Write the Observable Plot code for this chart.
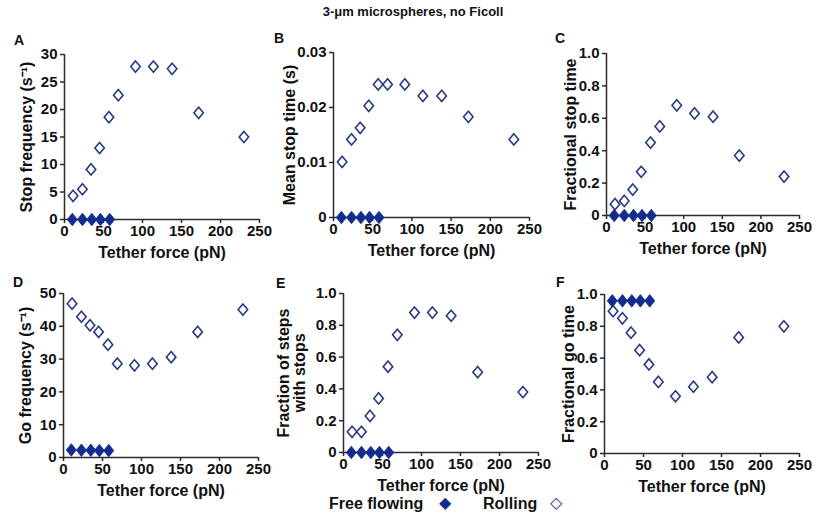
<!DOCTYPE html>
<html><head><meta charset="utf-8">
<script src="https://cdn.jsdelivr.net/npm/d3@7"></script>
<script src="https://cdn.jsdelivr.net/npm/@observablehq/plot@0.6"></script>
<style>
body{margin:0;background:#fff;font-family:"Liberation Sans",Arial,sans-serif;}
#wrap{position:relative;width:826px;height:516px;overflow:hidden;background:#fff;}
.abs{position:absolute;font-weight:bold;color:#111;line-height:1;white-space:nowrap;}
svg{overflow:visible;}
</style></head><body><div id="wrap"></div>
<script>
// ---- data ----
const forceRolling = [11, 23, 34, 45, 57, 69, 91, 114, 138, 172, 230];
const forceFree = [10, 23, 35, 46, 58];
const stopFreqRolling = [4.3, 5.5, 9.1, 13.0, 18.6, 22.6, 27.8, 27.8, 27.4, 19.4, 15.0];
const stopFreqFree = [0, 0, 0, 0, 0];
const meanStopRolling = [0.0101, 0.0142, 0.0163, 0.0203, 0.0242, 0.0242, 0.0242, 0.0221, 0.0221, 0.0183, 0.0142];
const meanStopFree = [0, 0, 0, 0, 0];
const fracStopRolling = [0.07, 0.09, 0.16, 0.27, 0.45, 0.55, 0.68, 0.63, 0.61, 0.37, 0.24];
const fracStopFree = [0, 0, 0, 0, 0];
const goFreqRolling = [46.9, 42.9, 40.3, 38.3, 34.4, 28.6, 28.1, 28.6, 30.6, 38.3, 45.1];
const goFreqFree = [2.3, 2.2, 2.2, 2.1, 2.1];
const fracStepsRolling = [0.13, 0.13, 0.23, 0.34, 0.54, 0.74, 0.88, 0.88, 0.86, 0.505, 0.38];
const fracStepsFree = [0, 0, 0, 0, 0];
const fracGoRolling = [0.895, 0.85, 0.76, 0.65, 0.56, 0.45, 0.36, 0.42, 0.48, 0.73, 0.80];
const fracGoFree = [0.96, 0.96, 0.96, 0.96, 0.96];
const xTicks = [0, 50, 100, 150, 200, 250];
const ticksA = [0, 5, 10, 15, 20, 25, 30];
const ticksB = [0, 0.01, 0.02, 0.03];
const ticksFrac = [0, 0.2, 0.4, 0.6, 0.8, 1.0];
const ticksD = [0, 10, 20, 30, 40, 50];
const titleText = "3-\u03bcm microspheres, no Ficoll";
const xLabel = "Tether force (pN)";

const FILL = "#132c8e", STROKE = "#283a82", AXIS = "#2a2a2a";
// diamonds a bit taller than wide
function makeDiamond(aspect) {
  return {draw(ctx, size) {
    const r = Math.sqrt(size / Math.PI), w = r * aspect;
    ctx.moveTo(0, -r); ctx.lineTo(w, 0); ctx.lineTo(0, r); ctx.lineTo(-w, 0); ctx.closePath();
  }};
}
const hollowDiamond = makeDiamond(0.85);
const filledDiamond = makeDiamond(0.8);

const wrap = document.getElementById("wrap");
function addText(txt, left, top, size, extra) {
  const d = document.createElement("div");
  d.className = "abs"; d.textContent = txt;
  d.style.left = left + "px"; d.style.top = top + "px"; d.style.fontSize = size + "px";
  if (extra) Object.assign(d.style, extra);
  wrap.appendChild(d); return d;
}

function panel(o) {
  const mL = 80, mT = 12, mR = 26, mB = 46;
  const width = (o.x1 - o.x0) + mL + mR, height = (o.y1 - o.y0) + mT + mB;
  const roll = forceRolling.map((f, i) => ({f, v: o.rolling[i]}));
  const free = forceFree.map((f, i) => ({f, v: o.free[i]}));
  const chart = Plot.plot({
    width, height, marginLeft: mL, marginTop: mT, marginRight: mR, marginBottom: mB,
    style: {fontFamily: "'Liberation Sans', Arial, sans-serif", fontSize: "15px", fontWeight: "bold", color: "#111", background: "transparent", overflow: "visible"},
    x: {domain: [0, 250], ticks: xTicks, tickFormat: d => String(d), label: xLabel, labelAnchor: "center", labelArrow: "none", labelOffset: 38, tickSize: 4, tickPadding: 2},
    y: {domain: o.yDomain, ticks: o.yTicks, tickFormat: o.fmt, label: o.label, labelAnchor: "center", labelArrow: "none", labelOffset: o.labelOffset, tickSize: 4, tickPadding: 3},
    marks: [
      Plot.ruleX([0], {stroke: AXIS, strokeWidth: 1.5}),
      Plot.ruleY([o.yDomain[0]], {stroke: AXIS, strokeWidth: 1.5}),
      Plot.dot(roll, {x: "f", y: "v", symbol: hollowDiamond, r: 5.6, stroke: STROKE, strokeWidth: 1.6, fill: "white"}),
      Plot.dot(free, {x: "f", y: "v", symbol: filledDiamond, r: 6.3, fill: FILL, stroke: FILL, strokeWidth: 0.8})
    ]
  });
  chart.querySelectorAll('g[aria-label="x-axis label"], g[aria-label="y-axis label"]').forEach(g => g.setAttribute("font-size", "16"));
  chart.querySelectorAll('g[aria-label="x-axis tick"], g[aria-label="y-axis tick"]').forEach(g => { g.setAttribute("stroke", AXIS); g.setAttribute("stroke-width", "1.5"); g.setAttribute("stroke-opacity", "1"); });
  chart.style.position = "absolute";
  chart.style.left = (o.x0 - mL) + "px";
  chart.style.top = (o.y0 - mT) + "px";
  wrap.appendChild(chart);
  addText(o.letter, o.lx, o.ly, 14);
}

const frac = d => d === 0 ? "0" : d.toFixed(1);
panel({x0: 64, x1: 259, y0: 54, y1: 219, yDomain: [0, 30], yTicks: ticksA, fmt: d => String(d), label: "Stop frequency (s\u207b\u00b9)", labelOffset: 44, rolling: stopFreqRolling, free: stopFreqFree, letter: "A", lx: 14, ly: 33});
panel({x0: 333, x1: 529, y0: 52, y1: 217, yDomain: [0, 0.03], yTicks: ticksB, fmt: d => d === 0 ? "0" : d.toFixed(2), label: "Mean stop time (s)", labelOffset: 50, rolling: meanStopRolling, free: meanStopFree, letter: "B", lx: 274, ly: 31});
panel({x0: 606, x1: 799, y0: 53, y1: 215, yDomain: [0, 1], yTicks: ticksFrac, fmt: frac, label: "Fractional stop time", labelOffset: 42, rolling: fracStopRolling, free: fracStopFree, letter: "C", lx: 555, ly: 31});
panel({x0: 63, x1: 258, y0: 293, y1: 457, yDomain: [0, 50], yTicks: ticksD, fmt: d => String(d), label: "Go frequency (s\u207b\u00b9)", labelOffset: 44, rolling: goFreqRolling, free: goFreqFree, letter: "D", lx: 13, ly: 275});
panel({x0: 343, x1: 538, y0: 293, y1: 452, yDomain: [0, 1], yTicks: ticksFrac, fmt: frac, label: "Fraction of steps\nwith stops", labelOffset: 66, rolling: fracStepsRolling, free: fracStepsFree, letter: "E", lx: 276, ly: 276});
panel({x0: 604, x1: 799, y0: 294, y1: 453, yDomain: [0, 1], yTicks: ticksFrac, fmt: frac, label: "Fractional go time", labelOffset: 42, rolling: fracGoRolling, free: fracGoFree, letter: "F", lx: 556, ly: 275});

// title
addText(titleText, 0, 5, 13, {width: "826px", textAlign: "center"});
// legend
addText("Free flowing", 329, 496, 16);
addText("\u25c6", 439, 495, 16, {color: FILL, fontFamily: "DejaVu Sans"});
addText("Rolling", 483, 496, 16);
addText("\u25c7", 550, 495, 16, {color: STROKE, fontFamily: "DejaVu Sans"});
</script></body></html>
